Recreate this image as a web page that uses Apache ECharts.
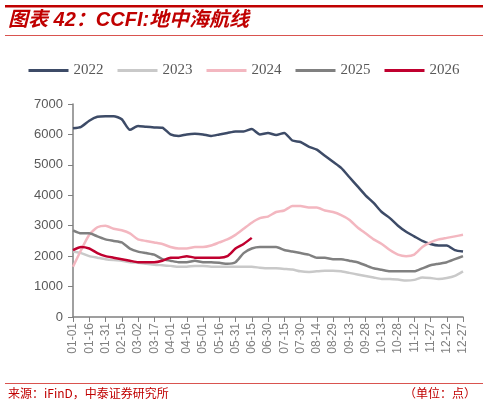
<!DOCTYPE html>
<html><head><meta charset="utf-8">
<script src="https://cdn.jsdelivr.net/npm/echarts@6/dist/echarts.min.js"></script>
<style>html,body{margin:0;padding:0;background:#fff}#c{width:488px;height:408px}</style>
</head><body><div id="c"></div>
<script>
// half-period categories; every other one is labelled
const dates = ['01-01','01-08','01-16','01-23','01-31','02-07','02-15','02-22','03-02','03-09','03-17','03-24',
  '04-01','04-08','04-16','04-23','05-01','05-08','05-16','05-23','05-31','06-07','06-15','06-22','06-30','07-07',
  '07-15','07-22','07-30','08-06','08-14','08-21','08-29','09-05','09-13','09-20','09-28','10-05','10-13','10-20',
  '10-28','11-04','11-12','11-19','11-27','12-04','12-12','12-19','12-27'];
const s2022 = [6200,6250,6450,6580,6600,6600,6500,6150,6280,6250,6230,6220,6000,5950,6000,6020,6000,5950,6000,6050,
  6100,6100,6180,6000,6050,5980,6050,5800,5750,5600,5500,5300,5100,4900,4600,4300,4000,3750,3450,3250,3000,2800,
  2650,2500,2400,2350,2350,2200,2150];
const s2023 = [2150,2100,2000,1950,1900,1870,1850,1800,1780,1750,1720,1700,1680,1650,1650,1680,1680,1650,1650,1650,
  1650,1650,1650,1620,1600,1600,1580,1560,1500,1480,1500,1520,1520,1500,1450,1400,1350,1300,1250,1250,1230,1200,
  1220,1300,1280,1250,1280,1350,1500];
const s2024 = [1650,2200,2700,2950,3000,2900,2850,2750,2550,2500,2450,2400,2300,2250,2250,2300,2300,2350,2450,2550,
  2700,2900,3100,3250,3300,3450,3500,3650,3650,3600,3600,3500,3450,3350,3200,2950,2750,2550,2400,2200,2050,2000,
  2050,2300,2450,2550,2600,2650,2700];
const s2025 = [2850,2750,2750,2650,2550,2500,2450,2250,2150,2100,2050,1900,1850,1800,1800,1850,1800,1800,1780,1750,
  1800,2100,2250,2300,2300,2300,2200,2150,2100,2050,1950,1950,1900,1900,1850,1800,1700,1600,1550,1500,1500,1500,
  1500,1600,1700,1750,1800,1900,2000];
const s2026 = [2200,2300,2250,2100,2000,1950,1900,1850,1800,1800,1800,1850,1950,1950,2000,1950,1950,1950,1950,2000,
  2250,2400,2600];
const names = ['2022','2023','2024','2025','2026'];
const colors = ['#3d4b67','#c9c9c9','#f3b7c0','#808080','#c0002f'];

const chart = echarts.init(document.getElementById('c'));
const mk = (n, d, i) => ({
  name: n, type: 'line', data: d, showSymbol: false, smooth: 0.2,
  lineStyle: {width: 2.5, color: colors[i]}, itemStyle: {color: colors[i]}
});
chart.setOption({
  animation: false,
  graphic: [
    {type: 'rect', shape: {x: 5, y: 5, width: 478, height: 2.5}, style: {fill: '#c00000'}},
    {type: 'text', left: 8, top: 10, style: {text: '图表 42：CCFI:地中海航线', fill: '#c00000',
      font: 'italic bold 20px "Liberation Sans","Noto Sans CJK SC",sans-serif'}},
    {type: 'rect', shape: {x: 5, y: 35, width: 478, height: 1}, style: {fill: '#d9534f'}},
    {type: 'rect', shape: {x: 5, y: 383, width: 478, height: 1}, style: {fill: '#d9534f'}},
    {type: 'text', left: 8, top: 387, style: {text: '来源：iFinD，中泰证券研究所', fill: '#c00000',
      font: '12px "Noto Sans CJK SC",sans-serif'}},
    {type: 'text', right: 12, top: 387, style: {text: '（单位：点）', fill: '#c00000',
      font: '12px "Noto Sans CJK SC",sans-serif'}}
  ],
  legend: {
    top: 58, left: 'center', itemWidth: 40, itemHeight: 3, itemGap: 14, icon: 'rect',
    textStyle: {color: '#595959', fontSize: 15, fontFamily: 'Liberation Serif'},
    data: names
  },
  grid: {left: 73, right: 25, top: 104, bottom: 91},
  xAxis: {
    type: 'category', data: dates, boundaryGap: false,
    axisLine: {lineStyle: {color: '#808080', width: 1.5}},
    axisTick: {interval: 1, lineStyle: {color: '#808080'}},
    axisLabel: {interval: 1, rotate: 90, color: '#808080', fontSize: 12, fontFamily: 'Liberation Sans', margin: 6}
  },
  yAxis: {
    type: 'value', min: 0, max: 7000, interval: 1000,
    axisLine: {show: true, lineStyle: {color: '#808080', width: 1.5}},
    axisTick: {show: true, lineStyle: {color: '#808080'}},
    splitLine: {show: false},
    axisLabel: {color: '#595959', fontSize: 13, fontFamily: 'Liberation Sans', margin: 10,
      formatter: v => String(v)}
  },
  series: [mk('2022', s2022, 0), mk('2023', s2023, 1), mk('2024', s2024, 2), mk('2025', s2025, 3), mk('2026', s2026, 4)]
});
</script>
</body></html>
